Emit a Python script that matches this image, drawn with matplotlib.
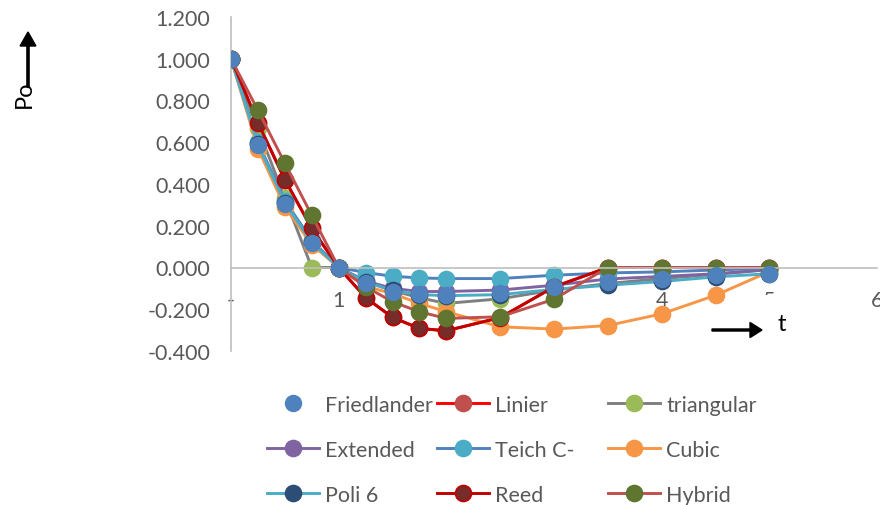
import matplotlib.pyplot as plt
from matplotlib.patches import Rectangle, FancyArrow

plt.rcParams['font.family'] = ['Lato', 'DejaVu Sans']
plt.rcParams['font.size'] = 15

# time values (same for every series)
t = [0, 0.25, 0.5, 0.75, 1.0, 1.25, 1.5, 1.75, 2.0, 2.5, 3.0, 3.5, 4.0, 4.5, 5.0]

friedlander = [1.000, 0.585, 0.305, 0.118, 0.000, -0.075, -0.115, -0.128, -0.130, -0.124, -0.095, -0.068, -0.053, -0.037, -0.029]
linier = [1.000, 0.694, 0.421, 0.187, 0.000, -0.144, -0.239, -0.292, -0.303, -0.240, -0.093, 0.000, 0.000, 0.000, 0.000]
triangular = [1.000, 0.667, 0.333, 0.000, 0.000, -0.065, -0.110, -0.145, -0.172, -0.150, -0.108, -0.077, -0.053, -0.033, -0.010]
extended = [1.000, 0.595, 0.315, 0.125, 0.000, -0.065, -0.100, -0.115, -0.115, -0.108, -0.085, -0.055, -0.043, -0.030, -0.010]
teich = [1.000, 0.600, 0.320, 0.130, 0.000, -0.024, -0.042, -0.050, -0.053, -0.053, -0.037, -0.026, -0.021, -0.012, -0.003]
cubic = [1.000, 0.570, 0.290, 0.110, 0.000, -0.090, -0.125, -0.172, -0.212, -0.284, -0.295, -0.278, -0.222, -0.133, -0.020]
poli6 = [1.000, 0.590, 0.310, 0.120, 0.000, -0.070, -0.110, -0.130, -0.135, -0.130, -0.105, -0.085, -0.067, -0.045, -0.030]
reed = [1.000, 0.694, 0.421, 0.187, 0.000, -0.144, -0.239, -0.292, -0.303, -0.240, -0.093, 0.000, 0.000, 0.000, 0.000]
hybrid = [1.000, 0.753, 0.500, 0.250, 0.000, -0.092, -0.164, -0.212, -0.244, -0.236, -0.152, 0.000, 0.000, 0.000, 0.000]

yticks = [-0.4, -0.2, 0.0, 0.2, 0.4, 0.6, 0.8, 1.0, 1.2]
xticks = [0, 1, 2, 3, 4, 5, 6]
xtick_labels = ['-', '1', '2', '3', '4', '5', '6']

# name, values, line colour, marker fill, marker edge
series = [
    ('Linier', linier, '#FF0000', '#C0504D', '#C0504D'),
    ('triangular', triangular, '#7F7F7F', '#9BBB59', '#9BBB59'),
    ('Extended', extended, '#8064A2', '#8064A2', '#8064A2'),
    ('Teich C-', teich, '#4F81BD', '#4BACC6', '#4BACC6'),
    ('Cubic', cubic, '#F79646', '#F79646', '#F79646'),
    ('Poli 6', poli6, '#4BACC6', '#2C4D75', '#2C4D75'),
    ('Reed', reed, '#C00000', '#772C2A', '#C00000'),
    ('Hybrid', hybrid, '#C0504D', '#5F7530', '#5F7530'),
]

fig = plt.figure(figsize=(8.8, 5.06), dpi=100)
ax = fig.add_axes([231 / 880, 1 - 352 / 506, (877 - 231) / 880, (352 - 18) / 506])

ms = 11.5
handles = {}
for name, vals, lc, mf, me in series:
    h, = ax.plot(t, vals, color=lc, lw=2.1, marker='o', ms=ms, mfc=mf, mec=me, mew=1.2)
    handles[name] = h
h, = ax.plot(t, friedlander, ls='none', marker='o', ms=ms, mfc='#4F81BD', mec='#4F81BD', zorder=5)
handles['Friedlander'] = h

ax.set_xlim(0, 6)
ax.set_ylim(-0.4, 1.2)
ax.set_yticks(yticks)
ax.set_yticklabels([f'{v:.3f}' for v in yticks])
ax.set_xticks(xticks)
ax.set_xticklabels(xtick_labels)
ax.tick_params(length=0, colors='#595959', labelsize=15.5)
ax.tick_params(axis='x', pad=16)
ax.tick_params(axis='y', pad=15)

for s in ['top', 'right']:
    ax.spines[s].set_visible(False)
ax.spines['bottom'].set_position(('data', 0))
ax.spines['left'].set_color('#BFBFBF')
ax.spines['bottom'].set_color('#BFBFBF')
ax.spines['left'].set_linewidth(1.2)
ax.spines['bottom'].set_linewidth(1.2)

# legend, three columns laid out like Excel's equal-width grid
columns = [['Friedlander', 'Extended', 'Poli 6'],
           ['Linier', 'Teich C-', 'Reed'],
           ['triangular', 'Cubic', 'Hybrid']]
col_x = [267, 437, 608]
for names, x0 in zip(columns, col_x):
    fig.legend([handles[n] for n in names], names, loc='upper left',
               bbox_to_anchor=(x0 / 880, 1 - 396 / 506), frameon=False,
               borderpad=0, borderaxespad=0, handlelength=2.4,
               handletextpad=0.3, labelspacing=1.15, numpoints=1,
               labelcolor='#595959', fontsize=15.5)

# white text box hiding most of the "5" label, with the t arrow
fig.patches.append(Rectangle((745 / 880, 1 - 352 / 506), 55 / 880, 56 / 506,
                             transform=fig.transFigure, facecolor='white',
                             edgecolor='none', zorder=3))
fig.add_artist(FancyArrow(712 / 880, 1 - 331 / 506, 38 / 880, 0, width=0.004,
                          head_width=0.03, head_length=12 / 880,
                          length_includes_head=False, color='black',
                          transform=fig.transFigure, zorder=4))
fig.text(782 / 880, 1 - 325 / 506, 't', fontsize=17, ha='center', va='center', zorder=5)

# Po with upward arrow
fig.text(24 / 880, 1 - 94 / 506, 'Po', rotation=90, fontsize=17, ha='center', va='center')
fig.add_artist(FancyArrow(28 / 880, 1 - 88 / 506, 0, 41 / 506, width=0.0025,
                          head_width=0.018, head_length=14 / 506,
                          color='black', transform=fig.transFigure))

fig.savefig('out.png', dpi=100)
